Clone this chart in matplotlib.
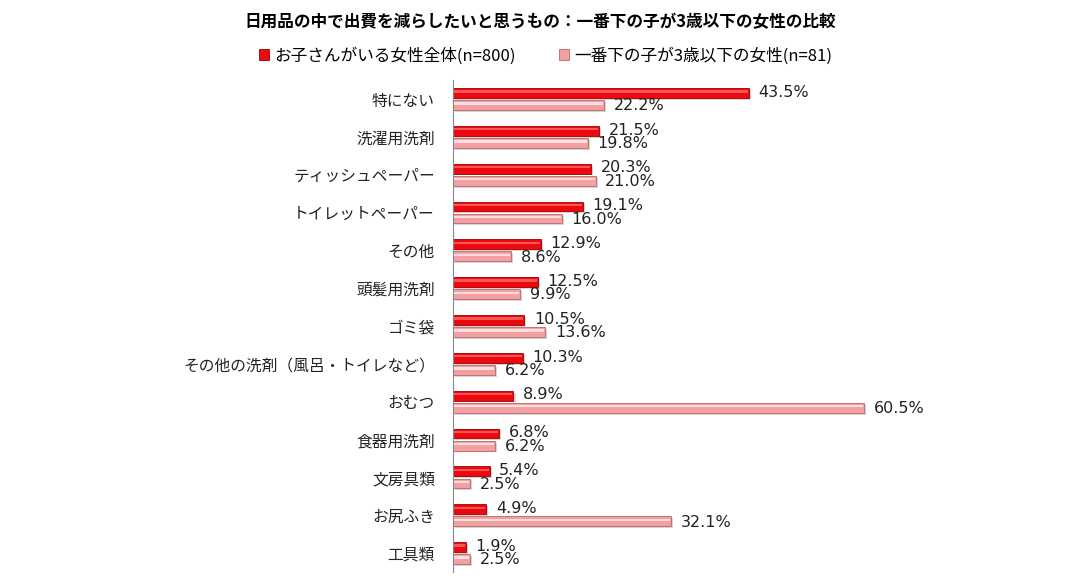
import matplotlib.pyplot as plt
import numpy as np
from matplotlib.patches import Patch

plt.rcParams['font.family'] = ['Noto Sans CJK JP', 'DejaVu Sans']

categories = ['特にない', '洗濯用洗剤', 'ティッシュペーパー', 'トイレットペーパー', 'その他',
              '頭髪用洗剤', 'ゴミ袋', 'その他の洗剤（風呂・トイレなど）', 'おむつ',
              '食器用洗剤', '文房具類', 'お尻ふき', '工具類']
all_women = [43.5, 21.5, 20.3, 19.1, 12.9, 12.5, 10.5, 10.3, 8.9, 6.8, 5.4, 4.9, 1.9]
young_child = [22.2, 19.8, 21.0, 16.0, 8.6, 9.9, 13.6, 6.2, 60.5, 6.2, 2.5, 32.1, 2.5]
series_names = ['お子さんがいる女性全体(n=800)', '一番下の子が3歳以下の女性(n=81)']

title = '日用品の中で出費を減らしたいと思うもの：一番下の子が3歳以下の女性の比較'

RED = '#EC0A0E'
RED_EDGE = '#A00000'
RED_HI = '#FF6A6A'
PINK = '#F3A0A2'
PINK_EDGE = '#B86868'
PINK_HI = '#FFE4E4'

fig = plt.figure(figsize=(10.8, 5.87), dpi=100)
ax = fig.add_axes([0.4194, 0.0256, 0.5037, 0.838])

y = np.arange(len(categories))
h = 0.26
off = 0.16

# subtle drop shadows
ax.barh(y - off + 0.05, all_women, height=h, left=0.3, color='#d4d4d4', zorder=1)
ax.barh(y + off + 0.05, young_child, height=h, left=0.3, color='#d4d4d4', zorder=1)

ax.barh(y - off, all_women, height=h, color=RED, edgecolor=RED_EDGE, linewidth=0.6, zorder=2)
ax.barh(y + off, young_child, height=h, color=PINK, edgecolor=PINK_EDGE, linewidth=0.6, zorder=2)
# glossy highlight stripe
ax.barh(y - off - 0.04, [v - 0.3 for v in all_women], height=0.06, left=0.15, color=RED_HI,
        linewidth=0, zorder=3, alpha=0.8)
ax.barh(y + off - 0.04, [v - 0.3 for v in young_child], height=0.06, left=0.15, color=PINK_HI,
        linewidth=0, zorder=3, alpha=0.9)

for i, (a, b) in enumerate(zip(all_women, young_child)):
    ax.text(a + 1.4, i - off - 0.02, f'{a:.1f}%', va='center', ha='left', fontsize=11.5,
            color='#222222', family=['DejaVu Sans'])
    ax.text(b + 1.4, i + off + 0.02, f'{b:.1f}%', va='center', ha='left', fontsize=11.5,
            color='#222222', family=['DejaVu Sans'])

ax.set_xlim(0, 80)
ax.set_ylim(len(categories) - 0.5, -0.5)
ax.set_yticks(y)
ax.set_yticklabels(categories, fontsize=11.3, color='#222222')
ax.tick_params(axis='y', length=0, pad=13)
ax.set_xticks([])
for s in ['top', 'right', 'bottom']:
    ax.spines[s].set_visible(False)
ax.spines['left'].set_color('#888888')
ax.spines['left'].set_linewidth(0.8)

fig.text(0.5, 0.963, title, ha='center', va='center', fontsize=12, weight='bold')

handles = [Patch(facecolor=RED, edgecolor=RED_EDGE, linewidth=0.6),
           Patch(facecolor=PINK, edgecolor=PINK_EDGE, linewidth=0.6)]
fig.legend(handles, series_names, loc='center', bbox_to_anchor=(0.505, 0.905), ncol=2,
           frameon=False, fontsize=12, handlelength=0.6, handleheight=0.6,
           handletextpad=0.3, columnspacing=2.6)

fig.savefig('out.png', dpi=100)
